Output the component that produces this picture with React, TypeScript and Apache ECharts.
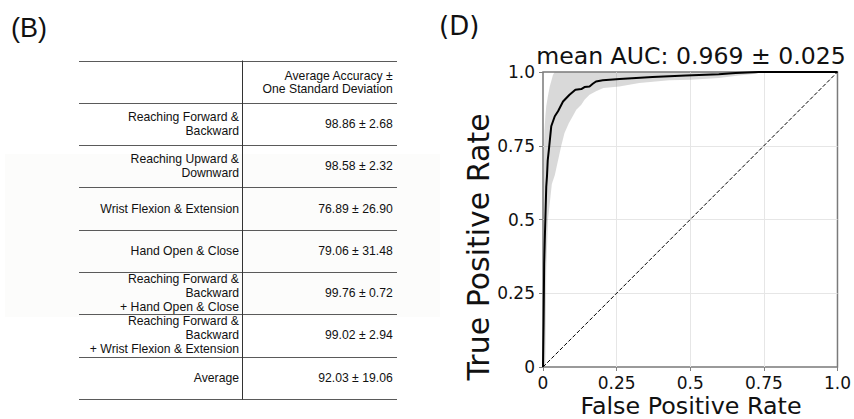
import React, { useEffect, useRef } from "react";
import * as echarts from "echarts";

// ---- ROC data ----
const fprMean = [0, 0.002, 0.004, 0.006, 0.008, 0.011, 0.0135, 0.016, 0.02, 0.028, 0.04, 0.051, 0.068, 0.09, 0.11, 0.13, 0.141, 0.158, 0.169, 0.18, 0.203, 0.26, 0.372, 0.485, 0.597, 0.654, 0.733, 1.0];
const tprMean = [0, 0.15, 0.35, 0.43, 0.5, 0.61, 0.646, 0.7, 0.737, 0.816, 0.85, 0.867, 0.9, 0.923, 0.94, 0.942, 0.949, 0.951, 0.96, 0.968, 0.972, 0.976, 0.983, 0.988, 0.992, 0.997, 1.0, 1.0];

const fprUpper = [0, 0, 0.002, 0.005, 0.008, 0.011, 0.017, 0.023, 0.034, 0.04, 1.0];
const tprUpper = [0, 0.5, 0.7, 0.8, 0.85, 0.884, 0.92, 0.951, 0.991, 1.0, 1.0];

const fprLower = [0.008, 0.01, 0.011, 0.017, 0.03, 0.04, 0.062, 0.073, 0.088, 0.101, 0.113, 0.13, 0.141, 0.158, 0.18, 0.205, 0.259, 0.327, 0.428, 0.502, 0.597, 0.665, 0.722, 0.739, 1.0];
const tprLower = [0, 0.2, 0.33, 0.5, 0.62, 0.65, 0.75, 0.793, 0.827, 0.85, 0.872, 0.889, 0.906, 0.923, 0.935, 0.946, 0.951, 0.963, 0.972, 0.974, 0.98, 0.988, 0.994, 1.0, 1.0];

const chanceLine = [[0, 0], [1, 1]];

const tickValues = [0, 0.25, 0.5, 0.75, 1.0];
const tickLabels = ["0", "0.25", "0.5", "0.75", "1.0"];

const rocTitle = "mean AUC: 0.969 ± 0.025";
const xName = "False Positive Rate";
const yName = "True Positive Rate";

// ---- Table data ----
const tableHeader = "Average Accuracy ±\nOne Standard Deviation";
const rowLabels = [
  "Reaching Forward &\nBackward",
  "Reaching Upward &\nDownward",
  "Wrist Flexion & Extension",
  "Hand Open & Close",
  "Reaching Forward &\nBackward\n+ Hand Open & Close",
  "Reaching Forward &\nBackward\n+ Wrist Flexion & Extension",
  "Average",
];
const rowMeans = ["98.86", "98.58", "76.89", "79.06", "99.76", "99.02", "92.03"];
const rowStds = ["2.68", "2.32", "26.90", "31.48", "0.72", "2.94", "19.06"];

export default function App() {
  const ref = useRef<HTMLDivElement>(null);

  useEffect(() => {
    const chart = echarts.init(ref.current!, undefined, { renderer: "svg" });

    const tFont = "'Liberation Sans', Arial, sans-serif";
    const pFont = "'DejaVu Sans', sans-serif";

    // table layout
    const tLeft = 79;
    const tRight = 397;
    const tMid = 242.5;
    const tTop = 60.5;
    const rowH = 42.3;
    const nRows = rowLabels.length + 1;
    const graphics: any[] = [];

    graphics.push({
      type: "rect",
      shape: { x: 5, y: 154, width: 435, height: 163 },
      style: { fill: "#fcfcfb" },
      z: 0,
    });

    for (let i = 0; i <= nRows; i++) {
      const y = Math.round(tTop + i * rowH) + 0.5;
      graphics.push({
        type: "line",
        shape: { x1: tLeft, y1: y, x2: tRight, y2: y },
        style: { stroke: "#5a5a5a", lineWidth: 1.2 },
        z: 2,
      });
    }
    graphics.push({
      type: "line",
      shape: { x1: tMid, y1: tTop, x2: tMid, y2: Math.round(tTop + nRows * rowH) + 0.5 },
      style: { stroke: "#333", lineWidth: 1 },
      z: 2,
    });

    const mkText = (text: string, x: number, y: number, align: string, size: number, family: string, lh?: number, extra: any = {}) => ({
      type: "text",
      x,
      y,
      z: 3,
      ...extra,
      style: {
        text,
        fontSize: size,
        fontFamily: family,
        fill: "#111",
        align,
        textAlign: align,
        verticalAlign: "middle",
        textVerticalAlign: "middle",
        lineHeight: lh ?? size * 1.2,
      },
    });

    graphics.push(mkText(tableHeader, 392.7, tTop + rowH / 2 + 1, "right", 12.2, tFont, 12.5));
    rowLabels.forEach((lab, i) => {
      const cy = tTop + (i + 1.5) * rowH;
      graphics.push(mkText(lab, 239, cy, "right", 12.2, tFont, 14));
      graphics.push(mkText(`${rowMeans[i]} ± ${rowStds[i]}`, 392.7, cy, "right", 12.2, tFont, 14));
    });

    graphics.push(mkText("(B)", 11, 28, "left", 27, tFont));
    graphics.push(mkText("(D)", 439, 26, "left", 26, pFont));
    graphics.push(mkText(rocTitle, 691, 56, "center", 23.6, pFont));
    graphics.push(mkText(xName, 691, 406, "center", 23.8, pFont));
    graphics.push(mkText(yName, 478, 247, "center", 30, pFont, undefined, { rotation: Math.PI / 2 }));

    const fmt = (v: number) => {
      const idx = tickValues.findIndex((t) => Math.abs(t - v) < 1e-9);
      return idx >= 0 ? tickLabels[idx] : "";
    };

    const axisCommon = {
      type: "value",
      min: 0,
      max: 1,
      interval: 0.25,
      axisLine: { show: false },
      axisTick: { show: true, length: 4, lineStyle: { color: "#808080", width: 1 } },
      splitLine: { show: true, showMinLine: false, showMaxLine: false, lineStyle: { color: "#e6e6e6", width: 1 } },
      axisLabel: { formatter: fmt, fontSize: 17, fontFamily: pFont, color: "#111" },
    };

    const bandPoints = () => {
      const pts: number[][] = [];
      for (let i = 0; i < fprUpper.length; i++) pts.push([fprUpper[i], tprUpper[i]]);
      for (let i = fprLower.length - 1; i >= 0; i--) pts.push([fprLower[i], tprLower[i]]);
      return pts;
    };

    chart.setOption({
      animation: false,
      grid: {
        left: 543,
        top: 72,
        width: 296,
        height: 295,
        show: true,
        borderColor: "#7a7a7a",
        borderWidth: 1.5,
        backgroundColor: "transparent",
      },
      xAxis: { ...axisCommon, axisLabel: { ...axisCommon.axisLabel, margin: 7 } },
      yAxis: { ...axisCommon, axisLabel: { ...axisCommon.axisLabel, margin: 8 } },
      graphic: { elements: graphics },
      series: [
        {
          type: "custom",
          silent: true,
          clip: true,
          data: [[0, 0]],
          renderItem: (_params: any, api: any) => {
            const pts = bandPoints().map((p) => api.coord(p));
            return {
              type: "polygon",
              shape: { points: pts },
              style: { fill: "rgba(128,128,128,0.3)", stroke: "none" },
            };
          },
          z: 1,
        },
        {
          type: "line",
          data: chanceLine,
          showSymbol: false,
          silent: true,
          lineStyle: { color: "#000", width: 1, type: [4, 2] },
          z: 2,
        },
        {
          type: "line",
          data: fprMean.map((x, i) => [x, tprMean[i]]),
          showSymbol: false,
          silent: true,
          lineStyle: { color: "#000", width: 2 },
          z: 3,
        },
      ],
    });

    return () => chart.dispose();
  }, []);

  return (
    <div
      ref={ref}
      style={{ position: "fixed", left: 0, top: 0, width: 854, height: 419, background: "#fff" }}
    />
  );
}
